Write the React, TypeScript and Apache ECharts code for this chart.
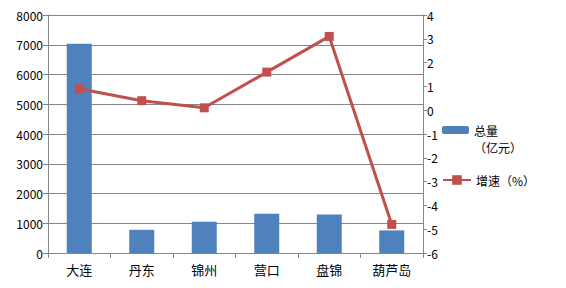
import React, { useEffect, useRef } from "react";
import * as echarts from "echarts";

const categories = ["大连", "丹东", "锦州", "营口", "盘锦", "葫芦岛"];
const totalValues = [7030, 780, 1050, 1320, 1290, 760];
const growthValues = [0.9, 0.4, 0.1, 1.6, 3.1, -4.8];
const totalName = "总量（亿元）";
const growthName = "增速（%）";

const FONT = "'Noto Sans CJK SC', 'Microsoft YaHei', sans-serif";

export default function App() {
  const ref = useRef<HTMLDivElement>(null);
  useEffect(() => {
    if (!ref.current) return;
    const chart = echarts.init(ref.current, undefined, { renderer: "svg" });
    chart.setOption({
      animation: false,
      textStyle: { fontFamily: FONT },
      grid: { left: 48, right: 143, top: 15, bottom: 35 },
      legend: [
        {
          data: [totalName],
          orient: "vertical",
          left: 442,
          top: 124,
          padding: 0,
          itemWidth: 27,
          itemHeight: 8,
          formatter: () => "总量",
          textStyle: { fontSize: 12, lineHeight: 12, color: "#000", fontFamily: FONT },
        },
        {
          data: [growthName],
          orient: "vertical",
          left: 442,
          top: 174,
          padding: 0,
          itemWidth: 28,
          itemHeight: 12,
          textStyle: { fontSize: 12, color: "#000", fontFamily: FONT },
        },
      ],
      graphic: [
        {
          type: "text",
          left: 474,
          top: 141,
          style: { text: "（亿元）", fontSize: 12, lineHeight: 12, fill: "#000", fontFamily: FONT },
        },
      ],
      xAxis: {
        type: "category",
        data: categories,
        axisLine: { lineStyle: { color: "#868686" } },
        axisTick: { show: true, length: 5, lineStyle: { color: "#868686" } },
        axisLabel: { color: "#000", fontSize: 13, margin: 10, fontFamily: FONT },
      },
      yAxis: [
        {
          type: "value",
          min: 0,
          max: 8000,
          interval: 1000,
          axisLine: { show: true, lineStyle: { color: "#868686" } },
          axisTick: { show: true, length: 5, lineStyle: { color: "#868686" } },
          axisLabel: { color: "#000", fontSize: 12, margin: 5, fontFamily: FONT, formatter: (v: number) => String(v) },
          splitLine: { show: true, lineStyle: { color: "#868686", width: 1 } },
        },
        {
          type: "value",
          min: -6,
          max: 4,
          interval: 1,
          position: "right",
          axisLine: { show: true, lineStyle: { color: "#868686" } },
          axisTick: { show: true, length: 4, lineStyle: { color: "#868686" } },
          axisLabel: { color: "#000", fontSize: 12, margin: 4, fontFamily: FONT },
          splitLine: { show: false },
        },
      ],
      series: [
        {
          name: totalName,
          type: "bar",
          data: totalValues,
          barWidth: "40%",
          itemStyle: { color: "#4F81BD" },
          yAxisIndex: 0,
        },
        {
          name: growthName,
          type: "line",
          data: growthValues,
          yAxisIndex: 1,
          symbol: "rect",
          symbolSize: 9,
          lineStyle: { color: "#C0504D", width: 3 },
          itemStyle: { color: "#C0504D" },
        },
      ],
    });
    return () => chart.dispose();
  }, []);
  return <div ref={ref} style={{ width: 566, height: 288, position: "absolute", left: 0, top: 0 }} />;
}
